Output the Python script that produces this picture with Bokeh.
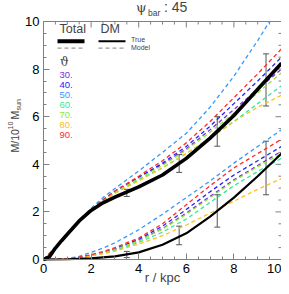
import math
from bokeh.plotting import figure
from bokeh.models import (Range1d, LinearAxis, FixedTicker, Label,
                          Whisker, TeeHead, ColumnDataSource)
from bokeh.embed import file_html
from bokeh.resources import INLINE
from bokeh.core.properties import value

# ---------------- data ----------------
r_true = [0, 0.25, 0.5, 0.75, 1, 1.5, 2, 2.5, 3, 4, 5, 6, 7, 8, 9, 10]
total_true = [0, 0.12, 0.48, 0.78, 1.06, 1.62, 2.06, 2.38, 2.62, 3.05, 3.55, 4.25, 5.1, 6.05, 7.15, 8.25]

r_dm = [0, 1, 2, 3, 4, 5, 6, 7, 8, 9, 10]
dm_true = [0, 0.01, 0.05, 0.13, 0.3, 0.62, 1.1, 1.8, 2.6, 3.5, 4.45]

r_model = [0, 0.5, 1, 1.5, 2, 2.5, 3, 4, 5, 6, 7, 8, 9, 10]
r_model_50 = [0, 0.5, 1, 1.5, 2, 2.5, 3, 4, 5, 6, 7, 8, 9, 9.5]  # leaves the top of the box at 9.5
total_30 = [0, 0.5, 1.05, 1.62, 2.1, 2.5, 2.86, 3.45, 4.0, 4.65, 5.45, 6.3, 7.15, 8.0]
total_40 = [0, 0.5, 1.05, 1.62, 2.1, 2.5, 2.86, 3.45, 4.05, 4.75, 5.6, 6.55, 7.5, 8.5]
total_50 = [0, 0.52, 1.08, 1.66, 2.15, 2.6, 2.98, 3.72, 4.5, 5.3, 6.4, 7.7, 9.2, 10.0]
total_60 = [0, 0.5, 1.05, 1.62, 2.08, 2.47, 2.8, 3.35, 3.85, 4.45, 5.1, 5.8, 6.55, 7.3]
total_70 = [0, 0.5, 1.05, 1.62, 2.08, 2.48, 2.83, 3.4, 3.95, 4.6, 5.35, 6.15, 7.0, 7.85]
total_80 = [0, 0.48, 1.02, 1.6, 2.05, 2.45, 2.78, 3.3, 3.85, 4.45, 5.1, 5.8, 6.4, 6.9]
total_90 = [0, 0.5, 1.05, 1.62, 2.1, 2.5, 2.88, 3.5, 4.15, 4.9, 5.8, 6.8, 7.8, 8.85]

dm_30 = [0, 0.01, 0.03, 0.09, 0.18, 0.29, 0.42, 0.8, 1.3, 1.95, 2.65, 3.35, 3.95, 4.55]
dm_40 = [0, 0.01, 0.03, 0.09, 0.18, 0.3, 0.45, 0.85, 1.4, 2.1, 2.85, 3.55, 4.15, 4.75]
dm_50 = [0, 0.01, 0.05, 0.13, 0.3, 0.48, 0.7, 1.25, 1.9, 2.6, 3.3, 4.05, 4.75, 5.45]
dm_60 = [0, 0.01, 0.03, 0.08, 0.16, 0.26, 0.38, 0.72, 1.15, 1.7, 2.4, 3.1, 3.7, 4.25]
dm_70 = [0, 0.01, 0.03, 0.08, 0.17, 0.28, 0.42, 0.78, 1.28, 1.9, 2.6, 3.3, 3.9, 4.45]
dm_80 = [0, 0.01, 0.03, 0.07, 0.15, 0.24, 0.35, 0.65, 1.0, 1.45, 1.95, 2.45, 2.95, 3.4]
dm_90 = [0, 0.01, 0.03, 0.1, 0.2, 0.33, 0.5, 0.9, 1.5, 2.3, 3.1, 3.85, 4.45, 5.05]

thetas = ["30.", "40.", "50.", "60.", "70.", "80.", "90."]
theta_colors = ["#7a2fd6", "#2222ff", "#3399ff", "#33e89a", "#8ee63a", "#ffbf1f", "#ff2b2b"]
total_models = [total_30, total_40, total_50, total_60, total_70, total_80, total_90]
dm_models = [dm_30, dm_40, dm_50, dm_60, dm_70, dm_80, dm_90]

err_r = [3.5, 5.7, 7.3, 9.35]
total_lo = [2.65, 3.66, 4.76, 6.45]
total_hi = [2.95, 4.41, 6.0, 8.64]
dm_lo = [0.08, 0.62, 1.36, 2.72]
dm_hi = [0.34, 1.40, 2.72, 4.97]

major_ticks = [0, 2, 4, 6, 8, 10]
minor_ticks = [i * 0.5 for i in range(21)]

# ---------------- geometry (plot box 0..10 at pixels 43..281 / 259..21) ----------------
W, H = 281, 286
PX0, PY0, SCALE = 43.0, 259.0, 23.8


def X(px):
    return (px - PX0) / SCALE


def Y(py):
    return (PY0 - py) / SCALE


FONT = "Liberation Sans"
AX = "#808080"

p = figure(width=W, height=H, x_range=Range1d(X(0), X(W)), y_range=Range1d(Y(H), Y(0)),
           output_backend="svg", toolbar_location=None,
           x_axis_type=None, y_axis_type=None,
           min_border_left=0, min_border_right=0, min_border_top=0, min_border_bottom=0)
p.outline_line_color = None
p.background_fill_color = "white"
p.border_fill_color = "white"


def make_axis():
    ax = LinearAxis(ticker=FixedTicker(ticks=major_ticks, minor_ticks=minor_ticks),
                    fixed_location=0, bounds=(0, 10))
    ax.axis_line_color = AX
    ax.major_tick_line_color = AX
    ax.minor_tick_line_color = AX
    ax.major_tick_in = 6
    ax.major_tick_out = 0
    ax.minor_tick_in = 3
    ax.minor_tick_out = 0
    ax.major_label_text_font = FONT
    ax.major_label_text_font_size = "13px"
    ax.major_label_text_color = "black"
    ax.major_label_standoff = 4
    return ax


p.add_layout(make_axis(), "below")
p.add_layout(make_axis(), "left")

# top and right sides of the box, with mirrored inward ticks
LMAJ, LMIN = 6 / SCALE, 3 / SCALE
p.segment(x0=[0, 10], y0=[10, 0], x1=[10, 10], y1=[10, 10], line_color=AX, line_width=1)
tick_len = [LMAJ if t in major_ticks else LMIN for t in minor_ticks]
p.segment(x0=minor_ticks, y0=[10] * len(minor_ticks), x1=minor_ticks,
          y1=[10 - L for L in tick_len], line_color=AX, line_width=1)
p.segment(x0=[10] * len(minor_ticks), y0=minor_ticks, x1=[10 - L for L in tick_len],
          y1=minor_ticks, line_color=AX, line_width=1)

# model curves
for i, (col, tm, dm) in enumerate(zip(theta_colors, total_models, dm_models)):
    rt = r_model_50 if thetas[i] == "50." else r_model
    p.line(rt, tm, line_color=col, line_width=1.3, line_dash="4 3")
    p.line(r_model, dm, line_color=col, line_width=1.3, line_dash="4 3")

# true curves
p.line(r_true, total_true, line_color="black", line_width=3.6)
p.line(r_dm, dm_true, line_color="black", line_width=2.2)

# error bars
EC = "#555555"
for lo, hi in ((total_lo, total_hi), (dm_lo, dm_hi)):
    src = ColumnDataSource(dict(r=err_r, lo=lo, hi=hi))
    p.add_layout(Whisker(source=src, base="r", lower="lo", upper="hi",
                         line_color=EC, line_width=1,
                         upper_head=TeeHead(size=6, line_color=EC, line_width=1),
                         lower_head=TeeHead(size=6, line_color=EC, line_width=1)))

# ---------------- legend ----------------
p.add_layout(Label(x=X(59), y=Y(35), text="Total", text_font=FONT, text_font_size="12.5px"))
p.add_layout(Label(x=X(100), y=Y(35), text="DM", text_font=FONT, text_font_size="12.5px"))
p.line([X(57), X(84)], [Y(40.7), Y(40.7)], line_color="black", line_width=4)
p.line([X(98), X(125)], [Y(40.7), Y(40.7)], line_color="black", line_width=2)
p.line([X(57), X(84)], [Y(47.7), Y(47.7)], line_color="#999999", line_width=1.3, line_dash="4 3")
p.line([X(98), X(125)], [Y(47.7), Y(47.7)], line_color="#999999", line_width=1.3, line_dash="4 3")
p.add_layout(Label(x=X(130.5), y=Y(42), text="True", text_font=FONT, text_font_size="7px"))
p.add_layout(Label(x=X(130.5), y=Y(50), text="Model", text_font=FONT, text_font_size="7px"))
p.add_layout(Label(x=X(59.5), y=Y(68), text="ϑ", text_font="DejaVu Serif", text_font_size="12px"))

th_src = ColumnDataSource(dict(x=[X(59)] * len(thetas),
                               y=[Y(74.5 + 10 * i) for i in range(len(thetas))],
                               t=thetas, c=theta_colors))
p.text(x="x", y="y", text="t", text_color="c", source=th_src,
       text_font=value(FONT), text_font_size="9.5px", text_baseline="middle")

# ---------------- title  psi_bar: 45 ----------------
p.add_layout(Label(x=X(135.5), y=Y(14.5), text="ψ", text_font="DejaVu Serif", text_font_size="13.5px"))
p.add_layout(Label(x=X(147.5), y=Y(17.5), text="bar", text_font=FONT, text_font_size="8.5px"))
p.add_layout(Label(x=X(163.5), y=Y(14.5), text=": 45", text_font=FONT, text_font_size="14px"))

# ---------------- axis titles ----------------
p.add_layout(Label(x=X(162), y=Y(284.5), text="r / kpc", text_font=FONT,
                   text_font_size="13px", text_align="center"))
ang = math.pi / 2
p.add_layout(Label(x=X(20), y=Y(152), text="M/10", angle=ang, text_font=FONT, text_font_size="10.5px"))
p.add_layout(Label(x=X(12.5), y=Y(129), text="10", angle=ang, text_font=FONT, text_font_size="7px"))
p.add_layout(Label(x=X(20), y=Y(119), text="M", angle=ang, text_font=FONT, text_font_size="10.5px"))
p.add_layout(Label(x=X(21), y=Y(110), text="sun", angle=ang, text_font=FONT, text_font_size="7px"))

open("out.html", "w").write(file_html(p, INLINE))
